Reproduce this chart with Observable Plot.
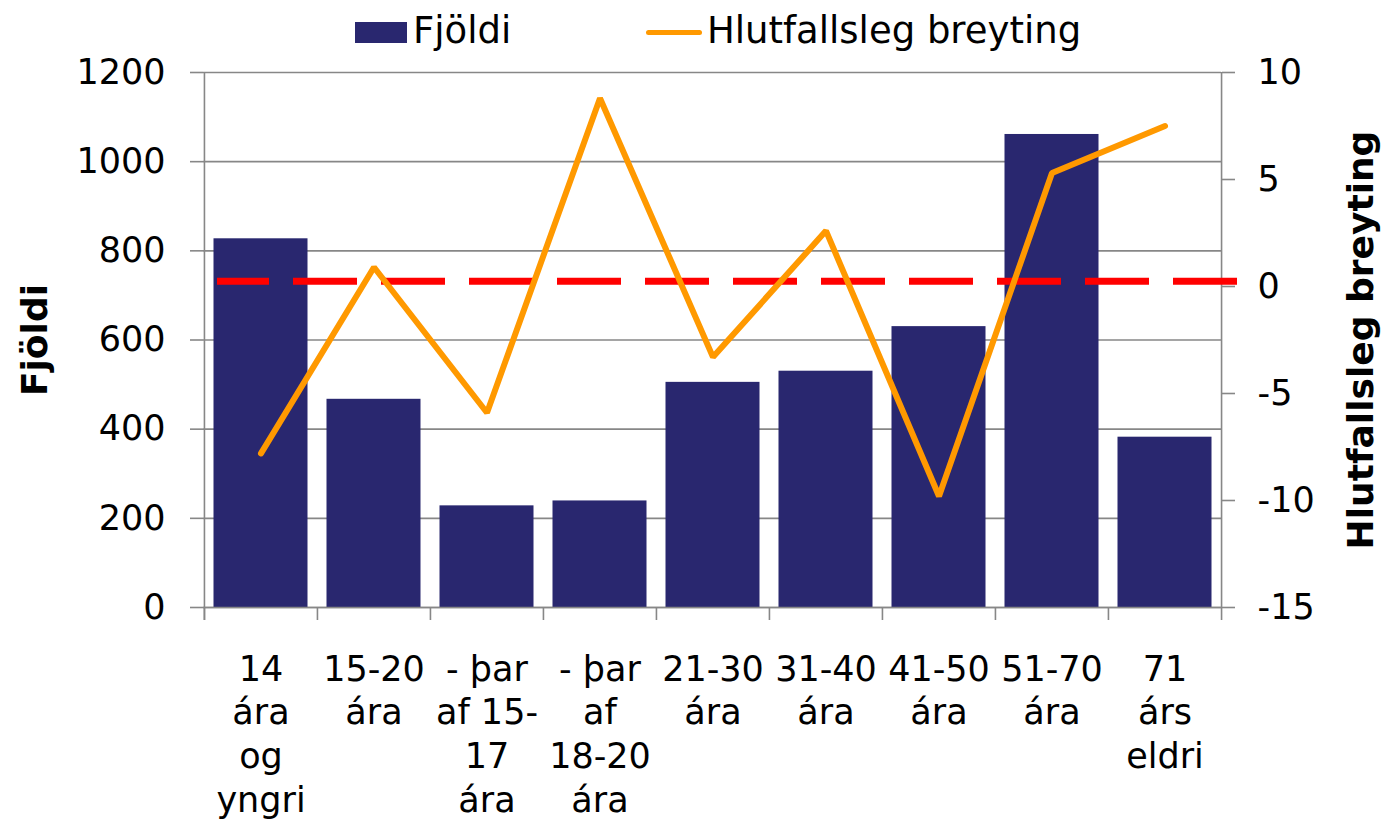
<!DOCTYPE html>
<html>
<head>
<meta charset="utf-8">
<script src="https://cdn.jsdelivr.net/npm/d3@7"></script>
<script src="https://cdn.jsdelivr.net/npm/@observablehq/plot@0.6"></script>
<style>
  html, body { margin: 0; padding: 0; background: white; }
  #legend { position: relative; width: 1392px; height: 56px; font-family: "DejaVu Sans", Verdana, sans-serif; font-size: 37px; color: #000; }
  #legend .sw { position: absolute; }
  #legend .lbl { position: absolute; line-height: 37px; white-space: pre; }
</style>
</head>
<body>
<div id="legend">
  <div class="sw" style="left:355px; top:22px; width:52px; height:21px; background:#29276F;"></div>
  <div class="lbl" style="left:413px; top:12px;">Fjöldi</div>
  <div class="sw" style="left:646px; top:30px; width:56px; height:5px; border-radius:2.5px; background:#FF9900;"></div>
  <div class="lbl" style="left:707px; top:12px;">Hlutfallsleg breyting</div>
</div>
<div id="chart"></div>
<script>
// ---- data ----
const categories = ["14 ára og yngri", "15-20 ára", "- þar af 15-17 ára", "- þar af 18-20 ára", "21-30 ára", "31-40 ára", "41-50 ára", "51-70 ára", "71 árs eldri"];
const tickLabels = ["14\nára\nog\nyngri", "15-20\nára", "- þar\naf 15-\n17\nára", "- þar\naf\n18-20\nára", "21-30\nára", "31-40\nára", "41-50\nára", "51-70\nára", "71\nárs\neldri"];
const fjoldi = [827, 467, 228, 239, 505, 530, 630, 1061, 382];
const breyting = [-7.8, 0.9, -5.9, 8.8, -3.3, 2.6, -9.8, 5.3, 7.5];
const referenceLevel = [0.25];
const leftTicks = [0, 200, 400, 600, 800, 1000, 1200];
const rightTicks = [-15, -10, -5, 0, 5, 10];
const leftDomain = [0, 1200];
const rightDomain = [-15, 10];

// ---- helpers ----
const toLeft = v => (v - rightDomain[0]) * (leftDomain[1] - leftDomain[0]) / (rightDomain[1] - rightDomain[0]) + leftDomain[0];
const fromLeft = v => (v - leftDomain[0]) * (rightDomain[1] - rightDomain[0]) / (leftDomain[1] - leftDomain[0]) + rightDomain[0];
const rows = categories.map((c, i) => ({cat: c, fjoldi: fjoldi[i], breyting: breyting[i]}));

const W = 1392, H = 767;
const mL = 203, mR = 171, mT = 16, mB = 216;
const bw = (W - mL - mR) / categories.length;
const frameH = H - mT - mB;
const gray = "#878787";

const chart = Plot.plot({
  width: W,
  height: H,
  marginLeft: mL,
  marginRight: mR,
  marginTop: mT,
  marginBottom: mB,
  style: {fontFamily: "DejaVu Sans, Verdana, sans-serif", fontSize: "35px", background: "white", color: "black", overflow: "visible"},
  x: {type: "band", domain: categories, padding: 0},
  y: {domain: leftDomain},
  marks: [
    Plot.gridY(leftTicks, {stroke: gray, strokeOpacity: 1, strokeWidth: 1.6}),
    Plot.barY(rows, {x: "cat", y: "fjoldi", fill: "#29276F", insetLeft: 9.5, insetRight: 9.5}),
    // axis lines
    Plot.ruleY([0], {stroke: gray, strokeWidth: 1.6}),
    Plot.ruleX([categories[0]], {dx: -bw / 2, stroke: gray, strokeWidth: 1.6, insetBottom: -13}),
    Plot.ruleX([categories[categories.length - 1]], {dx: bw / 2, stroke: gray, strokeWidth: 1.6, insetBottom: -13}),
    // category boundary ticks
    Plot.ruleX(categories, {dx: -bw / 2, stroke: gray, strokeWidth: 1.6, insetTop: frameH, insetBottom: -13}),
    // left axis
    Plot.axisY(leftTicks, {anchor: "left", tickSize: 13, tickPadding: 25, stroke: gray, strokeWidth: 1.6, fill: "black", tickFormat: d => String(d), fontSize: 35, label: null}),
    // right axis
    Plot.axisY(rightTicks.map(toLeft), {anchor: "right", tickSize: 13, tickPadding: 23, stroke: gray, strokeWidth: 1.6, fill: "black", tickFormat: d => String(Math.round(fromLeft(d))), fontSize: 35, label: null}),
    // x axis labels
    Plot.axisX({tickSize: 0, tickPadding: 42, tickFormat: d => tickLabels[categories.indexOf(d)], lineHeight: 1.25, fontSize: 35, fill: "black", label: null}),
    // reference dashed line
    Plot.ruleY(referenceLevel, {y: d => toLeft(d), stroke: "#FF0000", strokeWidth: 7, strokeDasharray: "64,24", strokeDashoffset: 12, insetLeft: 14, insetRight: -16}),
    // percentage change line
    Plot.line(rows, {x: "cat", y: d => toLeft(d.breyting), stroke: "#FF9900", strokeWidth: 6, strokeLinejoin: "miter", strokeLinecap: "round"}),
    // axis titles
    Plot.text(["Fjöldi"], {text: d => d, frameAnchor: "left", textAnchor: "middle", dx: -168, rotate: -90, fontSize: 36, fontWeight: "bold", fill: "black"}),
    Plot.text(["Hlutfallsleg breyting"], {text: d => d, frameAnchor: "right", textAnchor: "middle", dx: 140, rotate: -90, fontSize: 36, fontWeight: "bold", fill: "black"})
  ]
});
document.getElementById("chart").appendChild(chart);
</script>
</body>
</html>
